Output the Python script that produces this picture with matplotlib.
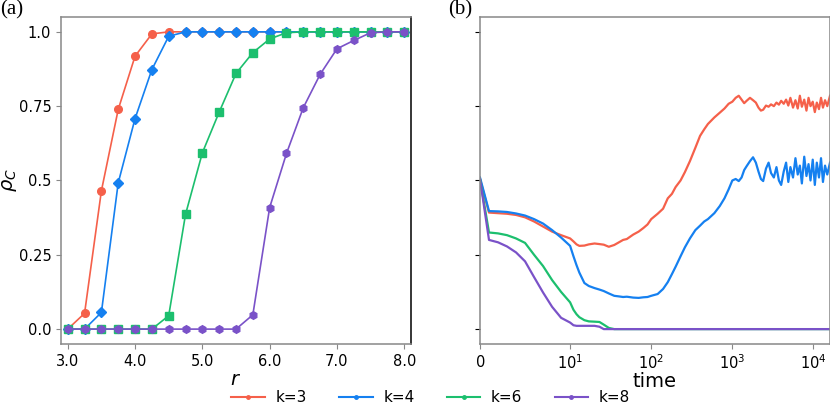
import numpy as np
import matplotlib.pyplot as plt
from matplotlib.lines import Line2D

# ---- data: panel (a), rho_C vs r ----
r_vals = [3.0, 3.25, 3.5, 3.75, 4.0, 4.25, 4.5, 4.75, 5.0, 5.25, 5.5,
          5.75, 6.0, 6.25, 6.5, 6.75, 7.0, 7.25, 7.5, 7.75, 8.0]
rho_k3 = [0.0, 0.053, 0.465, 0.739, 0.918, 0.993, 1.0, 1.0, 1.0, 1.0, 1.0,
          1.0, 1.0, 1.0, 1.0, 1.0, 1.0, 1.0, 1.0, 1.0, 1.0]
rho_k4 = [0.0, 0.0, 0.056, 0.492, 0.708, 0.873, 0.985, 1.0, 1.0, 1.0, 1.0,
          1.0, 1.0, 1.0, 1.0, 1.0, 1.0, 1.0, 1.0, 1.0, 1.0]
rho_k6 = [0.0, 0.0, 0.0, 0.0, 0.0, 0.0, 0.045, 0.386, 0.593, 0.73, 0.86,
          0.93, 0.976, 0.997, 1.0, 1.0, 1.0, 1.0, 1.0, 1.0, 1.0]
rho_k8 = [0.0, 0.0, 0.0, 0.0, 0.0, 0.0, 0.0, 0.0, 0.0, 0.0, 0.0,
          0.048, 0.409, 0.591, 0.745, 0.857, 0.943, 0.971, 0.997, 1.0, 1.0]

# ---- data: panel (b), time series ----
times = [0, 1, 2, 3, 4, 5, 6, 7, 8, 9,
         10, 11, 12, 13, 15, 17, 20, 23, 26, 30,
         35, 40, 45, 50, 60, 70, 80, 90, 100, 120,
         140, 160, 180, 200, 230, 260, 300, 350, 400, 450,
         500, 600, 700, 800, 900, 1000, 1100, 1200, 1300, 1400,
         1500, 1650, 1800, 1950, 2100, 2250, 2400, 2600, 2800, 3000,
         3250, 3500, 3750, 4000, 4300, 4600, 4900, 5200, 5600, 6000,
         6400, 6800, 7200, 7700, 8200, 8700, 9200, 9800, 10400, 11000,
         11700, 12400, 13100, 13900, 14800, 16000]
ts_k3 = [0.505, 0.392, 0.390, 0.388, 0.384, 0.376, 0.362, 0.345, 0.328, 0.316,
         0.305, 0.295, 0.285, 0.280, 0.281, 0.285, 0.288, 0.286, 0.284, 0.277,
         0.283, 0.292, 0.300, 0.303, 0.318, 0.328, 0.340, 0.352, 0.370, 0.388,
         0.405, 0.440, 0.455, 0.478, 0.500, 0.528, 0.565, 0.610, 0.650, 0.672,
         0.690, 0.712, 0.728, 0.742, 0.758, 0.765, 0.778, 0.785, 0.772, 0.760,
         0.768, 0.778, 0.770, 0.762, 0.745, 0.735, 0.738, 0.752, 0.748, 0.756,
         0.750, 0.762, 0.755, 0.768, 0.758, 0.772, 0.752, 0.778, 0.745, 0.770,
         0.742, 0.785, 0.748, 0.772, 0.735, 0.778, 0.750, 0.765, 0.730, 0.762,
         0.740, 0.778, 0.745, 0.770, 0.750, 0.785]
ts_k4 = [0.510, 0.397, 0.396, 0.394, 0.389, 0.382, 0.370, 0.355, 0.333, 0.308,
         0.280, 0.245, 0.215, 0.190, 0.155, 0.145, 0.138, 0.133, 0.128, 0.120,
         0.112, 0.110, 0.108, 0.109, 0.106, 0.105, 0.107, 0.108, 0.112, 0.118,
         0.135, 0.158, 0.185, 0.210, 0.245, 0.275, 0.305, 0.333, 0.348, 0.362,
         0.370, 0.390, 0.414, 0.440, 0.470, 0.500, 0.505, 0.498, 0.510, 0.535,
         0.548, 0.565, 0.578, 0.560, 0.530, 0.505, 0.498, 0.540, 0.560, 0.525,
         0.510, 0.545, 0.500, 0.485, 0.530, 0.560, 0.495, 0.545, 0.510, 0.575,
         0.520, 0.550, 0.490, 0.580, 0.515, 0.555, 0.500, 0.570, 0.485, 0.560,
         0.510, 0.575, 0.495, 0.550, 0.520, 0.560]
ts_k6 = [0.505, 0.325, 0.322, 0.316, 0.305, 0.290, 0.250, 0.212, 0.165, 0.125,
         0.090, 0.065, 0.050, 0.040, 0.030, 0.026, 0.025, 0.024, 0.015, 0.004,
         0.0, 0.0, 0.0, 0.0, 0.0, 0.0, 0.0, 0.0, 0.0, 0.0,
         0.0, 0.0, 0.0, 0.0, 0.0, 0.0, 0.0, 0.0, 0.0, 0.0,
         0.0, 0.0, 0.0, 0.0, 0.0, 0.0, 0.0, 0.0, 0.0, 0.0,
         0.0, 0.0, 0.0, 0.0, 0.0, 0.0, 0.0, 0.0, 0.0, 0.0,
         0.0, 0.0, 0.0, 0.0, 0.0, 0.0, 0.0, 0.0, 0.0, 0.0,
         0.0, 0.0, 0.0, 0.0, 0.0, 0.0, 0.0, 0.0, 0.0, 0.0,
         0.0, 0.0, 0.0, 0.0, 0.0, 0.0]
ts_k8 = [0.505, 0.300, 0.292, 0.278, 0.258, 0.228, 0.175, 0.123, 0.075, 0.038,
         0.022, 0.013, 0.011, 0.011, 0.011, 0.011, 0.011, 0.008, 0.0, 0.0,
         0.0, 0.0, 0.0, 0.0, 0.0, 0.0, 0.0, 0.0, 0.0, 0.0,
         0.0, 0.0, 0.0, 0.0, 0.0, 0.0, 0.0, 0.0, 0.0, 0.0,
         0.0, 0.0, 0.0, 0.0, 0.0, 0.0, 0.0, 0.0, 0.0, 0.0,
         0.0, 0.0, 0.0, 0.0, 0.0, 0.0, 0.0, 0.0, 0.0, 0.0,
         0.0, 0.0, 0.0, 0.0, 0.0, 0.0, 0.0, 0.0, 0.0, 0.0,
         0.0, 0.0, 0.0, 0.0, 0.0, 0.0, 0.0, 0.0, 0.0, 0.0,
         0.0, 0.0, 0.0, 0.0, 0.0, 0.0]

labels = ['k=3', 'k=4', 'k=6', 'k=8']
colors = ['#f5604a', '#1580f0', '#1cbf6e', '#7a52c8']
markers = ['o', 'D', 's', 'h']

fig = plt.figure(figsize=(8.3, 4.09), dpi=100)
ax1 = fig.add_axes([0.0735, 0.159, 0.4217, 0.7995])
ax2 = fig.add_axes([0.5783, 0.159, 0.4217, 0.7995])

for ys, c, m in zip([rho_k3, rho_k4, rho_k6, rho_k8], colors, markers):
    ax1.plot(r_vals, ys, color=c, marker=m, markersize=5.5, lw=1.2)

for ys, c in zip([ts_k3, ts_k4, ts_k6, ts_k8], colors):
    ax2.plot(times, ys, color=c, lw=1.6)

ax1.set_xlim(2.9, 8.1)
ax1.set_xticks([3, 4, 5, 6, 7, 8])
ax1.set_xticklabels(['3.0', '4.0', '5.0', '6.0', '7.0', '8.0'])
for ax in (ax1, ax2):
    ax.set_ylim(-0.05, 1.05)
    ax.set_yticks([0.0, 0.25, 0.5, 0.75, 1.0])
    for s in ax.spines.values():
        s.set_color('#888888')
        s.set_linewidth(1.1)
ax1.spines['right'].set_color('black')
ax1.set_yticklabels(['0.0', '0.25', '0.5', '0.75', '1.0'])
ax1.tick_params(labelsize=10.5, color='#888888')
ax1.set_xlabel('$r$', fontsize=14, labelpad=1)
ax1.set_ylabel(r'$\rho_C$', fontsize=14, labelpad=0)

ax2.set_xscale('symlog', linthresh=10)
ax2.set_xlim(0, 16000)
ax2.set_xticks([0, 10, 100, 1000, 10000])
ax2.xaxis.set_minor_locator(plt.NullLocator())
ax2.set_yticklabels([])
ax2.tick_params(labelsize=10.5)
ax2.tick_params(axis='x', color='#888888')
ax2.set_xlabel('time', fontsize=14, labelpad=0)

fig.text(0.0, 1.0, '(a)', family='Liberation Serif', fontsize=15, va='top', ha='left')
fig.text(0.540, 1.0, '(b)', family='Liberation Serif', fontsize=15, va='top', ha='left')

handles = [Line2D([], [], color=c, marker='o', markersize=2.5, lw=1.5) for c in colors]
fig.legend(handles, labels, loc='lower center', ncol=4, frameon=False, fontsize=11,
           bbox_to_anchor=(0.519, -0.025), handlelength=2.2, handletextpad=0.7,
           columnspacing=2.1)

fig.savefig('out.png', dpi=100)
